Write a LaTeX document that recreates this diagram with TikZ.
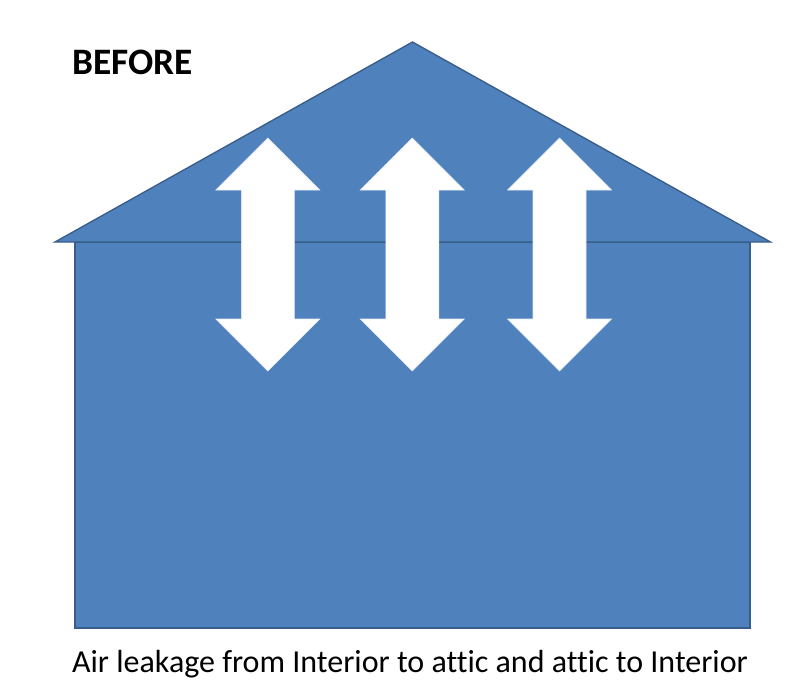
\documentclass[tikz,border=0pt]{standalone}
\usepackage{fontspec}
\setmainfont[Ligatures=NoCommon]{Carlito}
\usepackage{tikz}
\usetikzlibrary{positioning}
\usepackage{xcolor}
\definecolor{housefill}{HTML}{4F81BD}
\definecolor{houseline}{HTML}{385D8A}

\begin{document}
\begin{tikzpicture}[x=.75pt,y=-.75pt,
  wall/.style={fill=housefill,draw=houseline,line width=1pt},
  leak/.style={fill=white,draw=white!85!housefill,line width=.4pt},
  label/.style={inner sep=0pt,font=\fontsize{24}{28}\selectfont}]
\useasboundingbox (0,0) rectangle (800,689);
% walls and roof
\draw[wall] (75,242) rectangle (750,628);
\draw[wall,line join=miter] (55,242)--(412.5,42)--(770.5,242)--cycle;
% the three leakage arrows
\foreach \cx in {267.8,412.3,559.5}
  \draw[leak] (\cx,138)--(\cx+52,190)--(\cx+26.5,190)--(\cx+26.5,319)
    --(\cx+52,319)--(\cx,371)--(\cx-52,319)--(\cx-26.5,319)
    --(\cx-26.5,190)--(\cx-52,190)--cycle;
\node[label,anchor=base west,font=\fontsize{28}{32}\selectfont\bfseries] (before) at (72,74) {BEFORE};
\node[label,anchor=base] (caption) at (410,672) {Air leakage from Interior to attic and attic to Interior};
\end{tikzpicture}
\end{document}
